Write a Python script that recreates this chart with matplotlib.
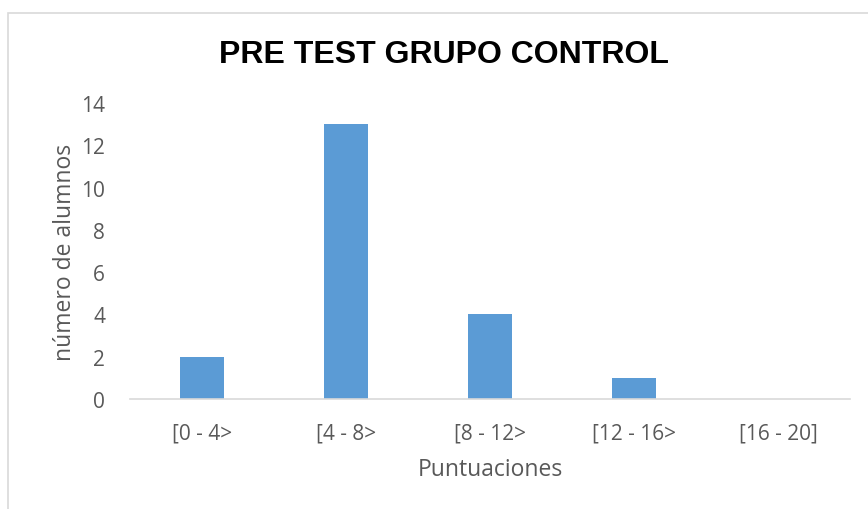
import matplotlib
matplotlib.use("Agg")
import matplotlib.pyplot as plt
from matplotlib.patches import Rectangle

categories = ["[0 - 4>", "[4 - 8>", "[8 - 12>", "[12 - 16>", "[16 - 20]"]
values = [2, 13, 4, 1, 0]
yticks = [0, 2, 4, 6, 8, 10, 12, 14]

W, H = 868, 510
fig = plt.figure(figsize=(W / 100, H / 100), dpi=100)
fig.patch.set_facecolor("white")

# outer chart border (extends past right/bottom edge)
fig.patches.append(Rectangle((8 / W, -0.1), 1.2, (H - 14) / H + 0.1, transform=fig.transFigure,
                             fill=False, edgecolor="#d9d9d9", linewidth=1.2))

left, right, bottom, top = 130, 850, 400, 104
ax = fig.add_axes([left / W, 1 - bottom / H, (right - left) / W, (bottom - top) / H])
x = range(len(categories))
ax.bar(x, values, width=0.31, color="#5b9bd5")
ax.set_xlim(-0.5, len(categories) - 0.5)
ax.set_ylim(0, 14)
ax.set_yticks(yticks)
ax.set_xticks(list(x))
ax.set_xticklabels(categories)
for s in ["top", "right", "left"]:
    ax.spines[s].set_visible(False)
ax.spines["bottom"].set_color("#d9d9d9")
ax.spines["bottom"].set_linewidth(1.2)
ax.tick_params(axis="both", length=0, labelsize=15, labelcolor="#595959")
ax.tick_params(axis="x", pad=17)
ax.tick_params(axis="y", pad=18)
for lab in ax.get_xticklabels() + ax.get_yticklabels():
    lab.set_fontfamily("Open Sans")

ax.set_xlabel("Puntuaciones", fontsize=16.5, color="#595959", fontfamily="Open Sans", labelpad=10)
ax.set_ylabel("número de alumnos", fontsize=16.5, color="#595959", fontfamily="Open Sans", labelpad=3)

fig.text(444 / W, 1 - 55 / H, "PRE TEST GRUPO CONTROL", ha="center", va="center",
         fontsize=23, fontweight="bold", fontfamily="Liberation Sans", color="black")

fig.savefig("out.png", dpi=100)
